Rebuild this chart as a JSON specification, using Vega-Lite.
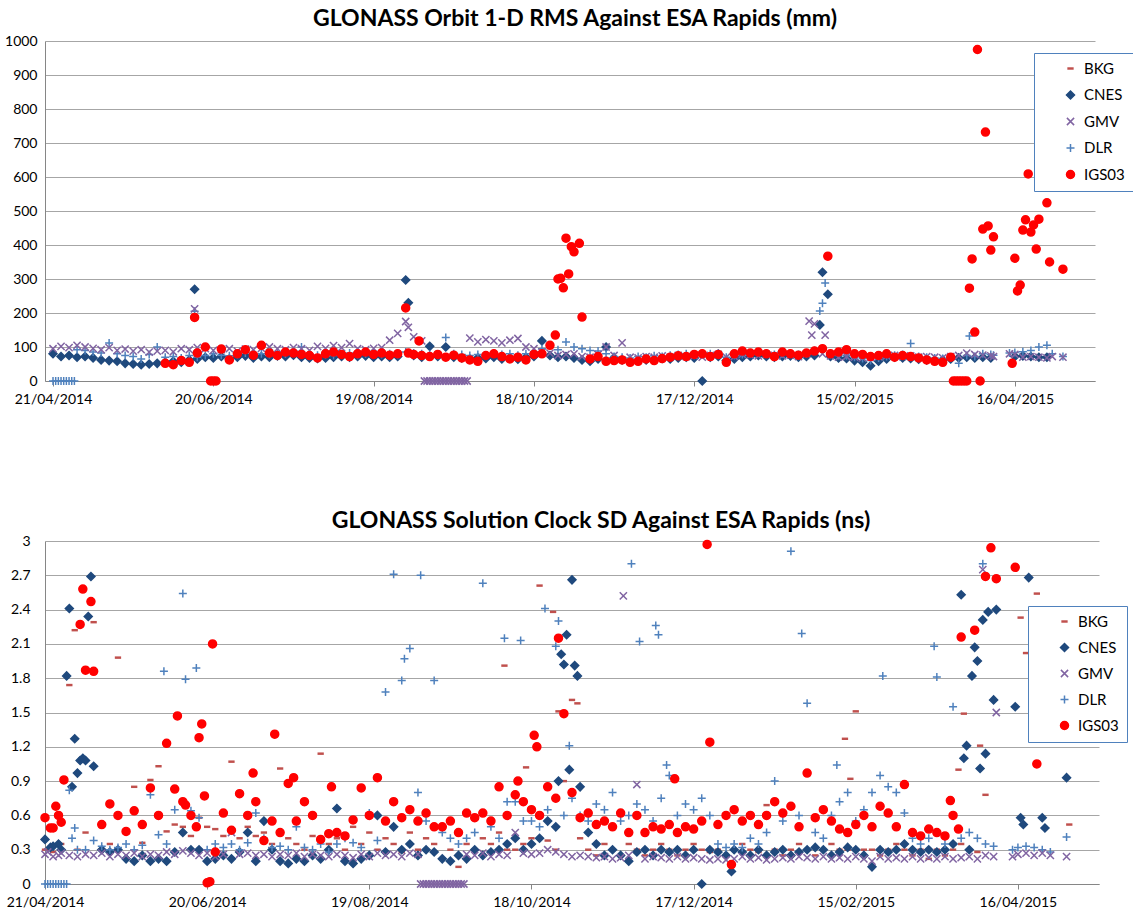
{
"$schema":"https://vega.github.io/schema/vega-lite/v6.json",
"padding":{"left":4,"top":8,"right":0,"bottom":0},
"background":"white",
"spacing":104,
"columns":1,
"resolve":{"scale":{"fill":"independent","stroke":"independent","shape":"independent"},"legend":{"fill":"independent","stroke":"independent","shape":"independent"}},
"config":{
"font":"Lato",
"view":{"stroke":null},
"axis":{"labelFont":"Lato","labelColor":"#000000","labelFontSize":14,"domainColor":"#868686","tickColor":"#868686","gridColor":"#A6A6A6","labelFlush":false},
"axisX":{"grid":false,"tickSize":5,"labelPadding":6},
"axisY":{"ticks":false,"grid":true},
"title":{"font":"Lato","fontSize":23,"fontWeight":"bold","color":"#000000","anchor":"middle","frame":"group"}
},
"datasets":{
"orbit":[
{"d":"2014-04-21","CNES":80,"GMV":95,"DLR":0},
{"d":"2014-04-22","DLR":0},
{"d":"2014-04-23","DLR":0},
{"d":"2014-04-24","CNES":72,"GMV":102,"DLR":0},
{"d":"2014-04-25","DLR":0},
{"d":"2014-04-26","DLR":0},
{"d":"2014-04-27","CNES":75,"GMV":98,"DLR":0},
{"d":"2014-04-28","DLR":0},
{"d":"2014-04-29","DLR":0},
{"d":"2014-04-30","CNES":70,"GMV":105,"DLR":92},
{"d":"2014-05-03","CNES":72,"GMV":100,"DLR":90},
{"d":"2014-05-06","CNES":68,"GMV":96,"DLR":85},
{"d":"2014-05-09","CNES":62,"GMV":92,"DLR":82},
{"d":"2014-05-12","CNES":60,"GMV":98,"DLR":112},
{"d":"2014-05-15","CNES":58,"GMV":90,"DLR":80},
{"d":"2014-05-18","CNES":52,"GMV":94,"DLR":75},
{"d":"2014-05-21","CNES":50,"GMV":88,"DLR":72},
{"d":"2014-05-24","CNES":48,"GMV":92,"DLR":65},
{"d":"2014-05-27","CNES":50,"GMV":85,"DLR":78},
{"d":"2014-05-30","CNES":52,"GMV":88,"DLR":100},
{"d":"2014-06-02","CNES":55,"GMV":90,"DLR":70,"IGS03":52},
{"d":"2014-06-05","CNES":58,"GMV":86,"DLR":72,"IGS03":48},
{"d":"2014-06-08","CNES":55,"GMV":95,"DLR":68,"IGS03":60},
{"d":"2014-06-11","CNES":62,"GMV":92,"DLR":75,"IGS03":55},
{"d":"2014-06-13","CNES":270,"GMV":212,"DLR":205,"IGS03":187},
{"d":"2014-06-14","CNES":65,"GMV":98,"DLR":70,"IGS03":82},
{"d":"2014-06-17","CNES":70,"GMV":95,"DLR":75,"IGS03":100},
{"d":"2014-06-19","IGS03":0},
{"d":"2014-06-20","CNES":68,"GMV":90,"DLR":80,"IGS03":0},
{"d":"2014-06-21","IGS03":0},
{"d":"2014-06-23","CNES":72,"GMV":92,"DLR":76,"IGS03":94},
{"d":"2014-06-26","CNES":65,"GMV":95,"DLR":74,"IGS03":62},
{"d":"2014-06-29","CNES":70,"GMV":88,"DLR":78,"IGS03":80},
{"d":"2014-07-02","CNES":74,"GMV":94,"DLR":82,"IGS03":92},
{"d":"2014-07-05","CNES":68,"GMV":92,"DLR":76,"IGS03":76},
{"d":"2014-07-08","CNES":72,"GMV":96,"DLR":80,"IGS03":105},
{"d":"2014-07-11","CNES":70,"GMV":100,"DLR":78,"IGS03":82},
{"d":"2014-07-14","CNES":74,"GMV":95,"DLR":82,"IGS03":75},
{"d":"2014-07-17","CNES":72,"GMV":92,"DLR":80,"IGS03":85},
{"d":"2014-07-20","CNES":76,"GMV":98,"DLR":88,"IGS03":82},
{"d":"2014-07-23","CNES":70,"GMV":95,"DLR":100,"IGS03":78},
{"d":"2014-07-26","CNES":68,"GMV":90,"DLR":78,"IGS03":75},
{"d":"2014-07-29","CNES":66,"GMV":102,"DLR":76,"IGS03":68},
{"d":"2014-08-01","CNES":68,"GMV":96,"DLR":78,"IGS03":80},
{"d":"2014-08-04","CNES":70,"GMV":104,"DLR":75,"IGS03":85},
{"d":"2014-08-07","CNES":72,"GMV":98,"DLR":80,"IGS03":78},
{"d":"2014-08-10","CNES":70,"GMV":110,"DLR":82,"IGS03":72},
{"d":"2014-08-13","CNES":72,"GMV":95,"DLR":78,"IGS03":80},
{"d":"2014-08-16","CNES":74,"GMV":92,"DLR":80,"IGS03":85},
{"d":"2014-08-19","CNES":70,"GMV":96,"DLR":82,"IGS03":78},
{"d":"2014-08-22","CNES":72,"GMV":98,"DLR":78,"IGS03":82},
{"d":"2014-08-25","CNES":70,"GMV":120,"DLR":80,"IGS03":76},
{"d":"2014-08-28","CNES":72,"GMV":140,"DLR":78,"IGS03":80},
{"d":"2014-08-31","CNES":297,"GMV":175,"DLR":85,"IGS03":215},
{"d":"2014-09-01","CNES":230,"GMV":158,"IGS03":82},
{"d":"2014-09-03","CNES":75,"GMV":130,"DLR":82,"IGS03":78},
{"d":"2014-09-05","IGS03":118},
{"d":"2014-09-06","CNES":70,"GMV":118,"DLR":80,"IGS03":75},
{"d":"2014-09-07","GMV":0},
{"d":"2014-09-08","GMV":0},
{"d":"2014-09-09","CNES":102,"GMV":0,"DLR":78,"IGS03":72},
{"d":"2014-09-10","GMV":0},
{"d":"2014-09-11","GMV":0},
{"d":"2014-09-12","CNES":72,"GMV":0,"DLR":76,"IGS03":78},
{"d":"2014-09-13","GMV":0},
{"d":"2014-09-14","GMV":0},
{"d":"2014-09-15","CNES":100,"GMV":0,"DLR":128,"IGS03":70},
{"d":"2014-09-16","GMV":0},
{"d":"2014-09-17","GMV":0},
{"d":"2014-09-18","CNES":70,"GMV":0,"DLR":80,"IGS03":76},
{"d":"2014-09-19","GMV":0},
{"d":"2014-09-20","GMV":0},
{"d":"2014-09-21","CNES":68,"GMV":0,"DLR":78,"IGS03":68},
{"d":"2014-09-22","GMV":0},
{"d":"2014-09-23","GMV":0},
{"d":"2014-09-24","CNES":65,"GMV":126,"DLR":75,"IGS03":62},
{"d":"2014-09-27","CNES":68,"GMV":115,"DLR":78,"IGS03":58},
{"d":"2014-09-30","CNES":66,"GMV":122,"DLR":76,"IGS03":75},
{"d":"2014-10-03","CNES":70,"GMV":118,"DLR":82,"IGS03":80},
{"d":"2014-10-06","CNES":65,"GMV":112,"DLR":78,"IGS03":72},
{"d":"2014-10-09","CNES":68,"GMV":120,"DLR":80,"IGS03":65},
{"d":"2014-10-12","CNES":64,"GMV":125,"DLR":76,"IGS03":70},
{"d":"2014-10-15","CNES":70,"GMV":100,"DLR":80,"IGS03":62},
{"d":"2014-10-18","CNES":72,"GMV":95,"DLR":85,"IGS03":78},
{"d":"2014-10-21","CNES":118,"GMV":85,"DLR":95,"IGS03":80},
{"d":"2014-10-24","CNES":75,"GMV":82,"DLR":105,"IGS03":105},
{"d":"2014-10-26","IGS03":135},
{"d":"2014-10-27","CNES":70,"GMV":75,"DLR":92,"IGS03":300},
{"d":"2014-10-28","IGS03":302},
{"d":"2014-10-29","IGS03":274},
{"d":"2014-10-30","CNES":72,"GMV":78,"DLR":115,"IGS03":420},
{"d":"2014-10-31","IGS03":315},
{"d":"2014-11-01","IGS03":395},
{"d":"2014-11-02","CNES":68,"GMV":80,"DLR":100,"IGS03":380},
{"d":"2014-11-04","IGS03":405},
{"d":"2014-11-05","CNES":62,"GMV":72,"DLR":95,"IGS03":188},
{"d":"2014-11-08","CNES":58,"GMV":70,"DLR":90,"IGS03":65},
{"d":"2014-11-11","CNES":65,"GMV":78,"DLR":88,"IGS03":72},
{"d":"2014-11-14","CNES":100,"GMV":100,"DLR":80,"IGS03":58},
{"d":"2014-11-17","CNES":68,"GMV":75,"DLR":72,"IGS03":60},
{"d":"2014-11-20","CNES":62,"GMV":112,"DLR":70,"IGS03":62},
{"d":"2014-11-23","CNES":58,"GMV":70,"DLR":68,"IGS03":55},
{"d":"2014-11-26","CNES":60,"GMV":68,"DLR":72,"IGS03":58},
{"d":"2014-11-29","CNES":62,"GMV":72,"DLR":70,"IGS03":65},
{"d":"2014-12-02","CNES":64,"GMV":70,"DLR":74,"IGS03":60},
{"d":"2014-12-05","CNES":66,"GMV":74,"DLR":72,"IGS03":66},
{"d":"2014-12-08","CNES":65,"GMV":70,"DLR":76,"IGS03":70},
{"d":"2014-12-11","CNES":68,"GMV":75,"DLR":78,"IGS03":74},
{"d":"2014-12-14","CNES":70,"GMV":72,"DLR":80,"IGS03":72},
{"d":"2014-12-17","CNES":68,"GMV":74,"DLR":76,"IGS03":78},
{"d":"2014-12-20","CNES":0,"GMV":70,"DLR":78,"IGS03":80},
{"d":"2014-12-23","CNES":70,"GMV":75,"DLR":80,"IGS03":72},
{"d":"2014-12-26","CNES":72,"GMV":78,"DLR":82,"IGS03":78},
{"d":"2014-12-29","CNES":60,"GMV":70,"DLR":70,"IGS03":55},
{"d":"2015-01-01","CNES":65,"GMV":72,"DLR":75,"IGS03":80},
{"d":"2015-01-04","CNES":70,"GMV":78,"DLR":78,"IGS03":88},
{"d":"2015-01-07","CNES":72,"GMV":76,"DLR":80,"IGS03":82},
{"d":"2015-01-10","CNES":75,"GMV":74,"DLR":82,"IGS03":85},
{"d":"2015-01-13","CNES":72,"GMV":78,"DLR":80,"IGS03":80},
{"d":"2015-01-16","CNES":70,"GMV":75,"DLR":78,"IGS03":72},
{"d":"2015-01-19","CNES":72,"GMV":74,"DLR":80,"IGS03":85},
{"d":"2015-01-22","CNES":74,"GMV":76,"DLR":82,"IGS03":80},
{"d":"2015-01-25","CNES":70,"GMV":72,"DLR":78,"IGS03":76},
{"d":"2015-01-28","CNES":72,"GMV":80,"DLR":80,"IGS03":82},
{"d":"2015-01-29","GMV":176},
{"d":"2015-01-30","GMV":135},
{"d":"2015-01-31","CNES":75,"GMV":168,"DLR":90,"IGS03":88},
{"d":"2015-02-02","CNES":165,"DLR":206},
{"d":"2015-02-03","CNES":320,"GMV":80,"DLR":229,"IGS03":95},
{"d":"2015-02-04","GMV":135,"DLR":288},
{"d":"2015-02-05","CNES":255,"IGS03":367},
{"d":"2015-02-06","CNES":72,"GMV":74,"DLR":78,"IGS03":80},
{"d":"2015-02-09","CNES":68,"GMV":70,"DLR":75,"IGS03":85},
{"d":"2015-02-12","CNES":66,"GMV":72,"DLR":74,"IGS03":92},
{"d":"2015-02-15","CNES":60,"GMV":70,"DLR":70,"IGS03":80},
{"d":"2015-02-18","CNES":55,"GMV":68,"DLR":66,"IGS03":78},
{"d":"2015-02-21","CNES":45,"GMV":70,"DLR":60,"IGS03":72},
{"d":"2015-02-24","CNES":58,"GMV":72,"DLR":68,"IGS03":75},
{"d":"2015-02-27","CNES":65,"GMV":74,"DLR":72,"IGS03":80},
{"d":"2015-03-02","CNES":70,"GMV":75,"DLR":76,"IGS03":70},
{"d":"2015-03-05","CNES":68,"GMV":72,"DLR":78,"IGS03":75},
{"d":"2015-03-08","CNES":66,"GMV":74,"DLR":110,"IGS03":72},
{"d":"2015-03-11","CNES":64,"GMV":70,"DLR":72,"IGS03":68},
{"d":"2015-03-14","CNES":62,"GMV":72,"DLR":70,"IGS03":62},
{"d":"2015-03-17","CNES":60,"GMV":70,"DLR":68,"IGS03":58},
{"d":"2015-03-20","CNES":62,"GMV":68,"DLR":66,"IGS03":55},
{"d":"2015-03-23","CNES":65,"GMV":72,"DLR":70,"IGS03":70},
{"d":"2015-03-24","IGS03":0},
{"d":"2015-03-25","IGS03":0},
{"d":"2015-03-26","CNES":68,"GMV":75,"DLR":52,"IGS03":0},
{"d":"2015-03-27","IGS03":0},
{"d":"2015-03-28","IGS03":0},
{"d":"2015-03-29","CNES":70,"GMV":82,"DLR":75,"IGS03":0},
{"d":"2015-03-30","DLR":132,"IGS03":273},
{"d":"2015-03-31","IGS03":359},
{"d":"2015-04-01","CNES":68,"GMV":78,"DLR":72,"IGS03":144},
{"d":"2015-04-02","IGS03":975},
{"d":"2015-04-03","IGS03":0},
{"d":"2015-04-04","CNES":70,"GMV":76,"DLR":80,"IGS03":447},
{"d":"2015-04-05","IGS03":732},
{"d":"2015-04-06","IGS03":456},
{"d":"2015-04-07","CNES":68,"GMV":74,"DLR":78,"IGS03":385},
{"d":"2015-04-08","GMV":72,"DLR":76,"IGS03":424},
{"d":"2015-04-14","GMV":80,"DLR":82},
{"d":"2015-04-15","IGS03":52},
{"d":"2015-04-16","CNES":72,"GMV":78,"DLR":84,"IGS03":361},
{"d":"2015-04-17","IGS03":265},
{"d":"2015-04-18","IGS03":282},
{"d":"2015-04-19","CNES":74,"GMV":70,"DLR":86,"IGS03":444},
{"d":"2015-04-20","IGS03":474},
{"d":"2015-04-21","IGS03":609},
{"d":"2015-04-22","CNES":72,"GMV":72,"DLR":90,"IGS03":438},
{"d":"2015-04-23","IGS03":459},
{"d":"2015-04-24","IGS03":388},
{"d":"2015-04-25","CNES":70,"GMV":70,"DLR":100,"IGS03":476},
{"d":"2015-04-28","CNES":70,"GMV":68,"DLR":105,"IGS03":524},
{"d":"2015-04-29","IGS03":350},
{"d":"2015-04-30","GMV":72,"DLR":80},
{"d":"2015-05-04","GMV":70,"DLR":72,"IGS03":329}
],
"clock":[
{"d":"2014-04-21","BKG":0.3,"CNES":0.39,"GMV":0.26,"DLR":0,"IGS03":0.58},
{"d":"2014-04-22","GMV":0.28,"DLR":0},
{"d":"2014-04-23","DLR":0,"IGS03":0.49,"CNES":0.32},
{"d":"2014-04-24","BKG":0.28,"CNES":0.33,"GMV":0.24,"DLR":0,"IGS03":0.49},
{"d":"2014-04-25","DLR":0,"IGS03":0.68},
{"d":"2014-04-26","DLR":0,"IGS03":0.6,"CNES":0.35,"GMV":0.25},
{"d":"2014-04-27","BKG":0.35,"CNES":0.3,"GMV":0.27,"DLR":0,"IGS03":0.54},
{"d":"2014-04-28","DLR":0,"IGS03":0.91},
{"d":"2014-04-29","DLR":0,"CNES":1.82},
{"d":"2014-04-30","BKG":1.74,"CNES":2.41,"GMV":0.25,"DLR":0.82},
{"d":"2014-05-01","CNES":0.85,"DLR":0.4},
{"d":"2014-05-02","BKG":2.22,"CNES":1.27,"DLR":0.49},
{"d":"2014-05-03","BKG":0.3,"CNES":0.97,"GMV":0.24,"DLR":0.3},
{"d":"2014-05-04","CNES":1.08,"IGS03":2.27},
{"d":"2014-05-05","CNES":1.1,"IGS03":2.58},
{"d":"2014-05-06","BKG":0.45,"CNES":1.08,"GMV":0.26,"DLR":0.3,"IGS03":1.87},
{"d":"2014-05-07","CNES":2.34},
{"d":"2014-05-08","CNES":2.69,"IGS03":2.47},
{"d":"2014-05-09","BKG":2.29,"CNES":1.03,"GMV":0.25,"DLR":0.38,"IGS03":1.86},
{"d":"2014-05-12","BKG":0.3,"CNES":0.3,"GMV":0.27,"DLR":0.33,"IGS03":0.52},
{"d":"2014-05-15","BKG":0.35,"CNES":0.28,"GMV":0.24,"DLR":0.3,"IGS03":0.7},
{"d":"2014-05-18","BKG":1.98,"CNES":0.3,"GMV":0.26,"DLR":0.32,"IGS03":0.6},
{"d":"2014-05-21","BKG":0.44,"CNES":0.22,"GMV":0.25,"DLR":0.35,"IGS03":0.46},
{"d":"2014-05-24","BKG":0.85,"CNES":0.2,"GMV":0.27,"DLR":0.3,"IGS03":0.64},
{"d":"2014-05-27","BKG":0.36,"CNES":0.25,"GMV":0.24,"DLR":0.34,"IGS03":0.52},
{"d":"2014-05-30","BKG":0.91,"CNES":0.2,"GMV":0.26,"DLR":0.78,"IGS03":0.84},
{"d":"2014-06-02","BKG":1.03,"CNES":0.22,"GMV":0.25,"DLR":0.43,"IGS03":0.6},
{"d":"2014-06-04","DLR":1.86},
{"d":"2014-06-05","BKG":0.46,"CNES":0.2,"GMV":0.28,"DLR":0.35,"IGS03":1.23},
{"d":"2014-06-08","BKG":0.52,"CNES":0.28,"GMV":0.26,"DLR":0.65,"IGS03":0.83},
{"d":"2014-06-09","IGS03":1.47},
{"d":"2014-06-11","BKG":0.5,"CNES":0.45,"GMV":0.29,"DLR":2.54,"IGS03":0.72},
{"d":"2014-06-12","DLR":1.79,"IGS03":0.69},
{"d":"2014-06-14","BKG":0.42,"CNES":0.3,"GMV":0.27,"DLR":0.64,"IGS03":0.6},
{"d":"2014-06-16","DLR":1.89,"IGS03":0.5},
{"d":"2014-06-17","BKG":0.58,"CNES":0.3,"GMV":0.25,"DLR":0.58,"IGS03":1.28},
{"d":"2014-06-18","IGS03":1.4},
{"d":"2014-06-19","IGS03":0.77},
{"d":"2014-06-20","BKG":0.5,"CNES":0.2,"GMV":0.27,"DLR":0.3,"IGS03":0.01},
{"d":"2014-06-21","IGS03":0.02},
{"d":"2014-06-22","IGS03":2.1},
{"d":"2014-06-23","BKG":0.48,"CNES":0.22,"GMV":0.24,"DLR":0.35,"IGS03":0.28},
{"d":"2014-06-26","BKG":0.42,"CNES":0.25,"GMV":0.26,"DLR":0.32,"IGS03":0.62},
{"d":"2014-06-29","BKG":1.07,"CNES":0.22,"GMV":0.45,"DLR":0.35,"IGS03":0.47},
{"d":"2014-07-02","BKG":0.4,"CNES":0.28,"GMV":0.26,"DLR":0.3,"IGS03":0.79},
{"d":"2014-07-05","BKG":0.5,"CNES":0.45,"GMV":0.27,"DLR":0.36,"IGS03":0.6},
{"d":"2014-07-07","IGS03":0.97},
{"d":"2014-07-08","BKG":0.42,"CNES":0.2,"GMV":0.25,"DLR":0.62,"IGS03":0.72},
{"d":"2014-07-11","BKG":0.45,"CNES":0.55,"GMV":0.26,"DLR":0.4,"IGS03":0.38},
{"d":"2014-07-14","BKG":0.35,"CNES":0.3,"GMV":0.24,"DLR":0.32,"IGS03":0.55},
{"d":"2014-07-15","IGS03":1.31},
{"d":"2014-07-17","BKG":1.01,"CNES":0.2,"GMV":0.26,"DLR":0.33,"IGS03":0.45},
{"d":"2014-07-20","BKG":0.4,"CNES":0.18,"GMV":0.25,"DLR":0.3,"IGS03":0.88},
{"d":"2014-07-22","IGS03":0.93},
{"d":"2014-07-23","BKG":0.35,"CNES":0.22,"GMV":0.27,"DLR":0.5,"IGS03":0.55},
{"d":"2014-07-26","BKG":0.3,"CNES":0.2,"GMV":0.24,"DLR":0.32,"IGS03":0.72},
{"d":"2014-07-29","BKG":0.42,"CNES":0.25,"GMV":0.26,"DLR":0.3,"IGS03":0.6},
{"d":"2014-08-01","BKG":1.14,"CNES":0.22,"GMV":0.25,"DLR":0.35,"IGS03":0.39},
{"d":"2014-08-04","BKG":0.35,"CNES":0.3,"GMV":0.24,"DLR":0.28,"IGS03":0.44},
{"d":"2014-08-05","IGS03":0.85},
{"d":"2014-08-07","BKG":0.4,"CNES":0.66,"GMV":0.26,"DLR":0.35,"IGS03":0.45},
{"d":"2014-08-10","BKG":0.3,"CNES":0.2,"GMV":0.25,"DLR":0.4,"IGS03":0.42},
{"d":"2014-08-13","BKG":0.5,"CNES":0.18,"GMV":0.23,"DLR":0.36,"IGS03":0.56},
{"d":"2014-08-16","BKG":0.35,"CNES":0.22,"GMV":0.26,"DLR":0.32,"IGS03":0.84},
{"d":"2014-08-19","BKG":0.45,"CNES":0.25,"GMV":0.24,"DLR":0.62,"IGS03":0.6},
{"d":"2014-08-22","BKG":0.3,"CNES":0.6,"GMV":0.27,"DLR":0.38,"IGS03":0.93},
{"d":"2014-08-25","BKG":0.4,"CNES":0.28,"GMV":0.25,"DLR":1.68,"IGS03":0.55},
{"d":"2014-08-28","BKG":0.35,"CNES":0.5,"GMV":0.26,"DLR":2.71,"IGS03":0.72},
{"d":"2014-08-31","BKG":0.28,"CNES":0.3,"GMV":0.24,"DLR":1.78,"IGS03":0.58},
{"d":"2014-09-01","DLR":1.97},
{"d":"2014-09-03","BKG":0.45,"CNES":0.35,"GMV":0.27,"DLR":2.06,"IGS03":0.65},
{"d":"2014-09-06","BKG":0.3,"CNES":0.25,"GMV":0.26,"DLR":0.8,"IGS03":0.55},
{"d":"2014-09-07","GMV":0,"DLR":2.7},
{"d":"2014-09-08","GMV":0},
{"d":"2014-09-09","BKG":0.4,"CNES":0.3,"GMV":0,"DLR":0.55,"IGS03":0.62},
{"d":"2014-09-10","GMV":0},
{"d":"2014-09-11","GMV":0},
{"d":"2014-09-12","BKG":0.35,"CNES":0.28,"GMV":0,"DLR":1.78,"IGS03":0.5},
{"d":"2014-09-13","GMV":0},
{"d":"2014-09-14","GMV":0},
{"d":"2014-09-15","BKG":0.22,"CNES":0.22,"GMV":0,"DLR":0.45,"IGS03":0.5},
{"d":"2014-09-16","GMV":0},
{"d":"2014-09-17","GMV":0},
{"d":"2014-09-18","BKG":0.3,"CNES":0.2,"GMV":0,"DLR":0.4,"IGS03":0.55},
{"d":"2014-09-19","GMV":0},
{"d":"2014-09-20","GMV":0},
{"d":"2014-09-21","BKG":0.15,"CNES":0.25,"GMV":0,"DLR":0.35,"IGS03":0.45},
{"d":"2014-09-22","GMV":0},
{"d":"2014-09-23","GMV":0},
{"d":"2014-09-24","BKG":0.35,"CNES":0.22,"GMV":0.26,"DLR":0.4,"IGS03":0.62},
{"d":"2014-09-27","BKG":0.3,"CNES":0.3,"GMV":0.25,"DLR":0.45,"IGS03":0.58},
{"d":"2014-09-30","BKG":0.4,"CNES":0.25,"GMV":0.27,"DLR":2.63,"IGS03":0.62},
{"d":"2014-10-03","BKG":0.35,"CNES":0.28,"GMV":0.24,"DLR":0.5,"IGS03":0.55},
{"d":"2014-10-06","BKG":0.45,"CNES":0.3,"GMV":0.26,"DLR":0.4,"IGS03":0.85},
{"d":"2014-10-08","BKG":1.91,"DLR":2.15},
{"d":"2014-10-09","BKG":0.3,"CNES":0.35,"GMV":0.25,"DLR":0.72,"IGS03":0.6},
{"d":"2014-10-12","BKG":0.3,"CNES":0.4,"GMV":0.45,"DLR":0.72,"IGS03":0.78},
{"d":"2014-10-13","IGS03":0.9},
{"d":"2014-10-14","DLR":2.13},
{"d":"2014-10-15","BKG":0.35,"CNES":0.3,"GMV":0.27,"DLR":0.55,"IGS03":0.72},
{"d":"2014-10-16","BKG":1.02},
{"d":"2014-10-18","BKG":0.4,"CNES":0.35,"GMV":0.26,"DLR":0.55,"IGS03":0.65},
{"d":"2014-10-19","IGS03":1.3},
{"d":"2014-10-20","IGS03":1.2},
{"d":"2014-10-21","BKG":2.61,"CNES":0.4,"GMV":0.27,"DLR":0.5,"IGS03":0.6},
{"d":"2014-10-23","DLR":2.41},
{"d":"2014-10-24","BKG":0.38,"CNES":0.55,"GMV":0.3,"DLR":0.65,"IGS03":0.85},
{"d":"2014-10-26","BKG":2.38},
{"d":"2014-10-27","BKG":0.3,"CNES":0.5,"GMV":0.28,"DLR":2.08,"IGS03":0.75},
{"d":"2014-10-28","BKG":1.51,"CNES":0.9,"DLR":2.3,"IGS03":2.15},
{"d":"2014-10-29","CNES":2.01},
{"d":"2014-10-30","BKG":0.9,"CNES":1.92,"GMV":0.26,"DLR":0.6,"IGS03":1.49},
{"d":"2014-10-31","CNES":2.18},
{"d":"2014-11-01","CNES":1.0,"DLR":1.21},
{"d":"2014-11-02","BKG":1.61,"CNES":2.66,"GMV":0.24,"DLR":0.75,"IGS03":0.8},
{"d":"2014-11-03","CNES":1.91},
{"d":"2014-11-04","BKG":1.58,"CNES":1.82},
{"d":"2014-11-05","BKG":0.4,"CNES":0.85,"GMV":0.25,"DLR":0.6,"IGS03":0.58},
{"d":"2014-11-08","BKG":0.3,"CNES":0.45,"GMV":0.24,"DLR":0.55,"IGS03":0.62},
{"d":"2014-11-11","BKG":0.25,"CNES":0.35,"GMV":0.23,"DLR":0.7,"IGS03":0.52},
{"d":"2014-11-14","BKG":0.35,"CNES":0.25,"GMV":0.24,"DLR":0.65,"IGS03":0.55},
{"d":"2014-11-17","BKG":0.3,"CNES":0.3,"GMV":0.22,"DLR":0.8,"IGS03":0.5},
{"d":"2014-11-20","BKG":0.25,"CNES":0.25,"GMV":0.23,"DLR":0.55,"IGS03":0.62},
{"d":"2014-11-21","GMV":2.52},
{"d":"2014-11-23","BKG":0.35,"CNES":0.2,"GMV":0.25,"DLR":0.6,"IGS03":0.45},
{"d":"2014-11-24","DLR":2.8},
{"d":"2014-11-26","BKG":0.3,"CNES":0.28,"GMV":0.87,"DLR":0.7,"IGS03":0.6},
{"d":"2014-11-27","DLR":2.12},
{"d":"2014-11-29","BKG":0.25,"CNES":0.3,"GMV":0.22,"DLR":0.65,"IGS03":0.45},
{"d":"2014-12-02","BKG":0.3,"CNES":0.25,"GMV":0.24,"DLR":0.55,"IGS03":0.5},
{"d":"2014-12-03","DLR":2.26},
{"d":"2014-12-04","DLR":2.18},
{"d":"2014-12-05","BKG":0.35,"CNES":0.3,"GMV":0.23,"DLR":0.75,"IGS03":0.48},
{"d":"2014-12-07","DLR":1.04},
{"d":"2014-12-08","BKG":0.3,"CNES":0.28,"GMV":0.22,"DLR":0.95,"IGS03":0.52},
{"d":"2014-12-10","IGS03":0.92},
{"d":"2014-12-11","BKG":0.25,"CNES":0.3,"GMV":0.24,"DLR":0.6,"IGS03":0.45},
{"d":"2014-12-14","BKG":0.3,"CNES":0.25,"GMV":0.22,"DLR":0.7,"IGS03":0.5},
{"d":"2014-12-17","BKG":0.35,"CNES":0.3,"GMV":0.23,"DLR":0.65,"IGS03":0.48},
{"d":"2014-12-20","BKG":0.3,"CNES":0,"GMV":0.22,"DLR":0.75,"IGS03":0.55},
{"d":"2014-12-22","IGS03":2.97},
{"d":"2014-12-23","BKG":0.28,"CNES":0.3,"GMV":0.21,"DLR":0.6,"IGS03":1.24},
{"d":"2014-12-26","BKG":0.3,"CNES":0.28,"GMV":0.22,"DLR":0.35,"IGS03":0.52},
{"d":"2014-12-29","BKG":0.25,"CNES":0.25,"GMV":0.21,"DLR":0.32,"IGS03":0.6},
{"d":"2014-12-31","CNES":0.11,"IGS03":0.17},
{"d":"2015-01-01","BKG":0.3,"CNES":0.3,"GMV":0.22,"DLR":0.35,"IGS03":0.65},
{"d":"2015-01-04","BKG":0.35,"CNES":0.28,"GMV":0.24,"DLR":0.32,"IGS03":0.55},
{"d":"2015-01-07","BKG":0.3,"CNES":0.25,"GMV":0.22,"DLR":0.4,"IGS03":0.6},
{"d":"2015-01-10","BKG":0.28,"CNES":0.3,"GMV":0.23,"DLR":0.35,"IGS03":0.52},
{"d":"2015-01-13","BKG":0.69,"CNES":0.25,"GMV":0.21,"DLR":0.45,"IGS03":0.6},
{"d":"2015-01-16","BKG":0.3,"CNES":0.28,"GMV":0.22,"DLR":0.9,"IGS03":0.72},
{"d":"2015-01-19","BKG":0.25,"CNES":0.3,"GMV":0.23,"DLR":0.55,"IGS03":0.62},
{"d":"2015-01-22","BKG":0.3,"CNES":0.25,"GMV":0.22,"DLR":2.91,"IGS03":0.68},
{"d":"2015-01-25","BKG":0.35,"CNES":0.28,"GMV":0.24,"DLR":0.6,"IGS03":0.5},
{"d":"2015-01-26","DLR":2.19},
{"d":"2015-01-28","BKG":0.3,"CNES":0.3,"GMV":0.23,"DLR":1.58,"IGS03":0.97},
{"d":"2015-01-31","BKG":0.25,"CNES":0.32,"GMV":0.22,"DLR":0.45,"IGS03":0.58},
{"d":"2015-02-03","BKG":0.3,"CNES":0.3,"GMV":0.24,"DLR":0.4,"IGS03":0.65},
{"d":"2015-02-06","BKG":0.35,"CNES":0.25,"GMV":0.22,"DLR":0.6,"IGS03":0.55},
{"d":"2015-02-08","DLR":1.04},
{"d":"2015-02-09","BKG":0.3,"CNES":0.28,"GMV":0.23,"DLR":0.72,"IGS03":0.48},
{"d":"2015-02-11","BKG":1.27},
{"d":"2015-02-12","BKG":0.3,"CNES":0.32,"GMV":0.22,"DLR":0.8,"IGS03":0.45},
{"d":"2015-02-13","BKG":0.92},
{"d":"2015-02-15","BKG":1.51,"CNES":0.3,"GMV":0.24,"DLR":0.55,"IGS03":0.52},
{"d":"2015-02-18","BKG":0.3,"CNES":0.25,"GMV":0.22,"DLR":0.65,"IGS03":0.6},
{"d":"2015-02-21","BKG":0.3,"CNES":0.15,"GMV":0.2,"DLR":0.8,"IGS03":0.5},
{"d":"2015-02-24","BKG":0.25,"CNES":0.3,"GMV":0.24,"DLR":0.95,"IGS03":0.68},
{"d":"2015-02-25","DLR":1.82},
{"d":"2015-02-27","BKG":0.3,"CNES":0.28,"GMV":0.22,"DLR":0.85,"IGS03":0.62},
{"d":"2015-03-02","BKG":0.35,"CNES":0.3,"GMV":0.23,"DLR":0.8,"IGS03":0.5},
{"d":"2015-03-05","BKG":0.3,"CNES":0.35,"GMV":0.22,"DLR":0.62,"IGS03":0.87},
{"d":"2015-03-08","BKG":0.25,"CNES":0.3,"GMV":0.24,"DLR":0.4,"IGS03":0.45},
{"d":"2015-03-11","BKG":0.3,"CNES":0.28,"GMV":0.22,"DLR":0.35,"IGS03":0.42},
{"d":"2015-03-14","BKG":0.22,"CNES":0.3,"GMV":0.23,"DLR":0.4,"IGS03":0.48},
{"d":"2015-03-16","DLR":2.08},
{"d":"2015-03-17","BKG":0.3,"CNES":0.28,"GMV":0.22,"DLR":1.81,"IGS03":0.45},
{"d":"2015-03-20","BKG":0.25,"CNES":0.3,"GMV":0.24,"DLR":0.35,"IGS03":0.42},
{"d":"2015-03-22","IGS03":0.73},
{"d":"2015-03-23","BKG":0.3,"CNES":0.35,"GMV":0.22,"DLR":1.55,"IGS03":0.6},
{"d":"2015-03-25","BKG":1.0,"IGS03":0.48},
{"d":"2015-03-26","BKG":0.35,"CNES":2.53,"GMV":0.23,"DLR":0.4,"IGS03":2.16},
{"d":"2015-03-27","BKG":1.49,"CNES":1.1},
{"d":"2015-03-28","CNES":1.21},
{"d":"2015-03-29","BKG":0.3,"CNES":0.3,"GMV":0.24,"DLR":0.45},
{"d":"2015-03-30","CNES":1.82},
{"d":"2015-03-31","CNES":2.07,"IGS03":2.22},
{"d":"2015-04-01","BKG":0.28,"CNES":1.95,"GMV":0.22,"DLR":0.4},
{"d":"2015-04-02","BKG":1.21,"CNES":1.01},
{"d":"2015-04-03","CNES":2.31,"GMV":2.75,"DLR":2.8},
{"d":"2015-04-04","BKG":0.78,"CNES":1.14,"GMV":0.25,"DLR":0.35,"IGS03":2.69},
{"d":"2015-04-05","CNES":2.38},
{"d":"2015-04-06","IGS03":2.94},
{"d":"2015-04-07","CNES":1.61,"GMV":0.24,"DLR":0.33},
{"d":"2015-04-08","CNES":2.4,"GMV":1.5,"IGS03":2.67},
{"d":"2015-04-14","GMV":0.24,"DLR":0.3},
{"d":"2015-04-15","CNES":1.55,"IGS03":2.77},
{"d":"2015-04-16","GMV":0.26,"DLR":0.32},
{"d":"2015-04-17","BKG":2.33,"CNES":0.58},
{"d":"2015-04-18","CNES":0.52},
{"d":"2015-04-19","BKG":2.02,"GMV":0.27,"DLR":0.33},
{"d":"2015-04-20","CNES":2.68},
{"d":"2015-04-22","GMV":0.25,"DLR":0.32},
{"d":"2015-04-23","BKG":2.54,"IGS03":1.05},
{"d":"2015-04-25","CNES":0.58,"GMV":0.27,"DLR":0.3},
{"d":"2015-04-26","CNES":0.49},
{"d":"2015-04-28","GMV":0.25,"DLR":0.28},
{"d":"2015-05-04","CNES":0.93,"GMV":0.24,"DLR":0.41},
{"d":"2015-05-05","BKG":0.52}
]
},
"concat":[
{
"title":{"text":"GLONASS Orbit 1-D RMS Against ESA Rapids (mm)","offset":3,"dx":5},
"width":1050,"height":340,
"data":{"name":"orbit"},
"transform":[{"fold":["BKG","CNES","GMV","DLR","IGS03"],"as":["s","v"]}],
"mark":{"type":"point","strokeWidth":1.5,"opacity":1,"size":64},
"encoding":{
"x":{"field":"d","type":"temporal","scale":{"domain":[{"year":2014,"month":4,"date":18},{"year":2015,"month":5,"date":16}]},"axis":{"title":null,"format":"%d/%m/%Y","values":[{"year":2014,"month":4,"date":21},{"year":2014,"month":6,"date":20},{"year":2014,"month":8,"date":19},{"year":2014,"month":10,"date":18},{"year":2014,"month":12,"date":17},{"year":2015,"month":2,"date":15},{"year":2015,"month":4,"date":16}]}},
"y":{"field":"v","type":"quantitative","scale":{"domain":[0,1000],"nice":false},"axis":{"title":null,"format":"d","labelPadding":8,"values":[0,100,200,300,400,500,600,700,800,900,1000]}},
"fill":{"field":"s","type":"nominal","scale":{"domain":["BKG","CNES","GMV","DLR","IGS03"],"range":["#C0504D","#1F497D","#8064A2","#4F81BD","#FF0000"]},"legend":{"title":null,"orient":"none","legendX":989,"legendY":12,"fillColor":"#FFFFFF","strokeColor":"#4F81BD","padding":8,"symbolOffset":21,"labelOffset":6,"labelFontSize":15,"labelFont":"Lato","labelColor":"#000000","rowPadding":10.5,"symbolSize":64,"symbolStrokeWidth":1.5}},
"stroke":{"field":"s","type":"nominal","scale":{"domain":["BKG","CNES","GMV","DLR","IGS03"],"range":["#C0504D","#1F497D","#8064A2","#4F81BD","#FF0000"]},"legend":{"title":null,"orient":"none","legendX":989,"legendY":12,"fillColor":"#FFFFFF","strokeColor":"#4F81BD","padding":8,"symbolOffset":21,"labelOffset":6,"labelFontSize":15,"labelFont":"Lato","labelColor":"#000000","rowPadding":10.5,"symbolSize":64,"symbolStrokeWidth":1.5}},
"shape":{"field":"s","type":"nominal","scale":{"domain":["BKG","CNES","GMV","DLR","IGS03"],"range":["M-0.6,-0.12H0.6V0.12H-0.6Z","diamond","M-0.9,-0.9L0.9,0.9M-0.9,0.9L0.9,-0.9","M-1,0H1M0,-1V1","circle"]},"legend":{"title":null,"orient":"none","legendX":989,"legendY":12,"fillColor":"#FFFFFF","strokeColor":"#4F81BD","padding":8,"symbolOffset":21,"labelOffset":6,"labelFontSize":15,"labelFont":"Lato","labelColor":"#000000","rowPadding":10.5,"symbolSize":64,"symbolStrokeWidth":1.5}},
"order":{"field":"s","type":"ordinal"}
}
},
{
"title":{"text":"GLONASS Solution Clock SD Against ESA Rapids (ns)","dx":29,"offset":1},
"width":1054,"height":343,
"data":{"name":"clock"},
"transform":[{"fold":["BKG","CNES","GMV","DLR","IGS03"],"as":["s","v"]}],
"mark":{"type":"point","strokeWidth":1.5,"opacity":1,"size":64},
"encoding":{
"x":{"field":"d","type":"temporal","scale":{"domain":[{"year":2014,"month":4,"date":21},{"year":2015,"month":5,"date":16}]},"axis":{"title":null,"format":"%d/%m/%Y","values":[{"year":2014,"month":4,"date":21},{"year":2014,"month":6,"date":20},{"year":2014,"month":8,"date":19},{"year":2014,"month":10,"date":18},{"year":2014,"month":12,"date":17},{"year":2015,"month":2,"date":15},{"year":2015,"month":4,"date":16}]}},
"y":{"field":"v","type":"quantitative","scale":{"domain":[0,3],"nice":false},"axis":{"title":null,"format":".1~f","labelPadding":15,"values":[0,0.3,0.6,0.9,1.2,1.5,1.8,2.1,2.4,2.7,3]}},
"fill":{"field":"s","type":"nominal","scale":{"domain":["BKG","CNES","GMV","DLR","IGS03"],"range":["#C0504D","#1F497D","#8064A2","#4F81BD","#FF0000"]},"legend":{"title":null,"orient":"none","legendX":983,"legendY":65,"fillColor":"#FFFFFF","strokeColor":"#4F81BD","padding":8,"symbolOffset":21,"labelOffset":6,"labelFontSize":15,"labelFont":"Lato","labelColor":"#000000","rowPadding":10,"symbolSize":64,"symbolStrokeWidth":1.5}},
"stroke":{"field":"s","type":"nominal","scale":{"domain":["BKG","CNES","GMV","DLR","IGS03"],"range":["#C0504D","#1F497D","#8064A2","#4F81BD","#FF0000"]},"legend":{"title":null,"orient":"none","legendX":983,"legendY":65,"fillColor":"#FFFFFF","strokeColor":"#4F81BD","padding":8,"symbolOffset":21,"labelOffset":6,"labelFontSize":15,"labelFont":"Lato","labelColor":"#000000","rowPadding":10,"symbolSize":64,"symbolStrokeWidth":1.5}},
"shape":{"field":"s","type":"nominal","scale":{"domain":["BKG","CNES","GMV","DLR","IGS03"],"range":["M-0.6,-0.12H0.6V0.12H-0.6Z","diamond","M-0.9,-0.9L0.9,0.9M-0.9,0.9L0.9,-0.9","M-1,0H1M0,-1V1","circle"]},"legend":{"title":null,"orient":"none","legendX":983,"legendY":65,"fillColor":"#FFFFFF","strokeColor":"#4F81BD","padding":8,"symbolOffset":21,"labelOffset":6,"labelFontSize":15,"labelFont":"Lato","labelColor":"#000000","rowPadding":10,"symbolSize":64,"symbolStrokeWidth":1.5}},
"order":{"field":"s","type":"ordinal"}
}
}
]
}
